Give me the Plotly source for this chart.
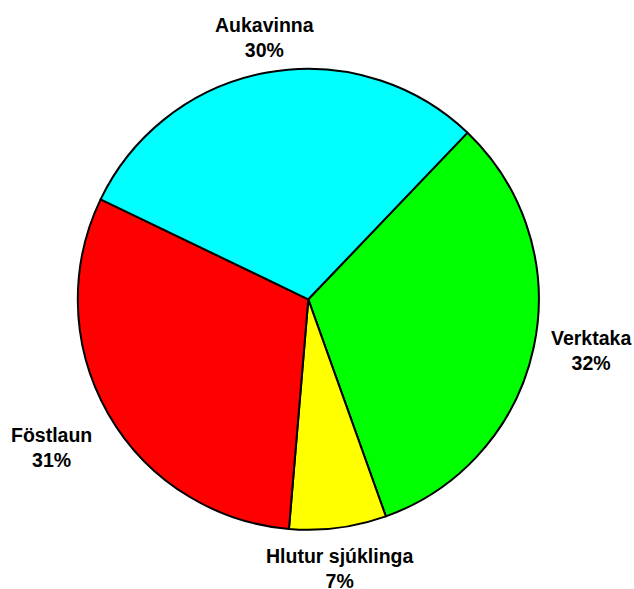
import math
import plotly.graph_objects as go

labels = ["Verktaka", "Hlutur sjúklinga", "Föstlaun", "Aukavinna"]
values = [32.4, 6.8, 30.8, 30.0]
colors = ["#00FF00", "#FFFF00", "#FF0000", "#00FFFF"]

W, H = 634, 589
cx, cy, R = 308.3, 299.3, 230.5   # pie centre / radius in figure pixels
ROT = 43.7
LABEL_GAP = 16

fig = go.Figure(go.Pie(
    labels=labels,
    values=values,
    sort=False,
    direction="clockwise",
    rotation=ROT,
    marker=dict(colors=colors, line=dict(color="black", width=2)),
    textinfo="none",
    showlegend=False,
    domain=dict(x=[(cx - R) / W, (cx + R) / W], y=[(H - cy - R) / H, (H - cy + R) / H]),
    hoverinfo="label+percent",
))

# outside labels placed on each slice's mid-angle ray
total = sum(values)
cum = 0.0
annotations = []
for lab, v in zip(labels, values):
    mid = math.radians(ROT + 360.0 * (cum + v / 2.0) / total)
    cum += v
    s, c = math.sin(mid), math.cos(mid)
    rho = R + LABEL_GAP
    px = cx + rho * s
    py = cy - rho * c
    xanchor = "left" if s > 0.3 else ("right" if s < -0.3 else "center")
    yanchor = "bottom" if c > 0.3 else ("top" if c < -0.3 else "middle")
    pct = round(100.0 * v / total)
    annotations.append(dict(
        x=px / W, y=1 - py / H, xref="paper", yref="paper",
        text=f"{lab}<br>{pct}%", showarrow=False,
        xanchor=xanchor, yanchor=yanchor, align="center",
        yshift=-6 if yanchor == "bottom" else (1 if yanchor == "top" and abs(s) < 0.3 else 0),
        font=dict(family="Liberation Sans, Arial, sans-serif", size=19.5, color="black", weight="bold"),
    ))

fig.update_layout(
    width=W, height=H,
    margin=dict(l=0, r=0, t=0, b=0),
    paper_bgcolor="white",
    plot_bgcolor="white",
    annotations=annotations,
)

fig.write_html(
    "out.html",
    config={"displayModeBar": False},
    post_script="document.body.style.margin='0';document.body.style.overflow='hidden';",
)
